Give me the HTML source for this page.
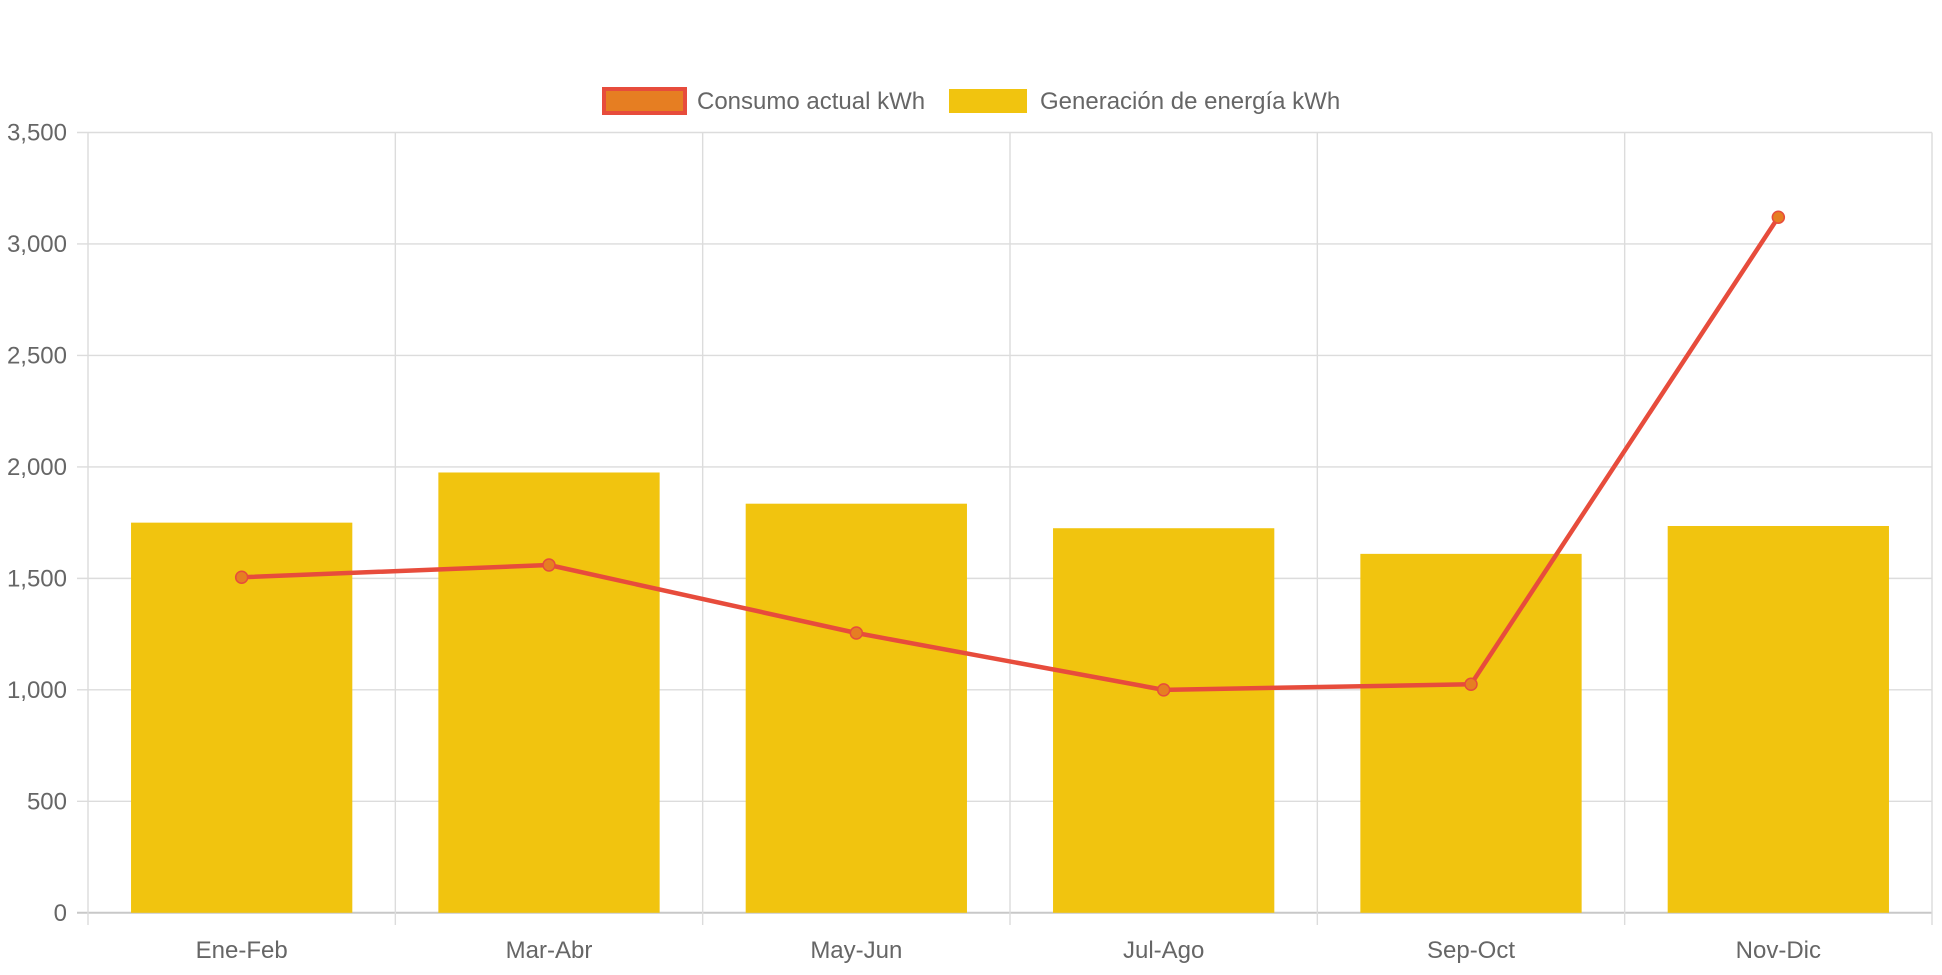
<!DOCTYPE html>
<html><head><meta charset="utf-8"><style>
html,body{margin:0;padding:0;background:#fff;}
svg text{font-family:"Liberation Sans",sans-serif;fill:#666;}
</style></head><body>
<svg id="chart" width="1942" height="970" xmlns="http://www.w3.org/2000/svg">
<g id="legend">
 <g>
  <rect x="604" y="89" width="81" height="24" fill="#e67e22" stroke="#e74c3c" stroke-width="4"/>
  <text x="697" y="109" font-size="24">Consumo actual kWh</text>
 </g>
 <g>
  <rect x="949" y="89" width="78" height="24" fill="#f1c40f"/>
  <text x="1040" y="109" font-size="24">Generación de energía kWh</text>
 </g>
</g>
<g id="grid"></g><g id="bars"></g><g id="line"></g><g id="labels"></g>
</svg>
<script>
const categories=["Ene-Feb","Mar-Abr","May-Jun","Jul-Ago","Sep-Oct","Nov-Dic"];
const generacion=[1750,1975,1835,1725,1610,1735];
const consumo=[1505,1560,1255,1000,1025,3120];
const yTicks=[0,500,1000,1500,2000,2500,3000,3500];
const yTickLabels=["0","500","1,000","1,500","2,000","2,500","3,000","3,500"];
const NS="http://www.w3.org/2000/svg";
const L=88,R=1932,T=132.5,B=912.8,YMAX=3500;
const cw=(R-L)/categories.length;
function y(v){return B-(v/YMAX)*(B-T);}
function xc(i){return L+cw*(i+0.5);}
function mk(tag,attrs,parent){const e=document.createElementNS(NS,tag);for(const k in attrs)e.setAttribute(k,attrs[k]);parent.appendChild(e);return e;}
const grid=document.getElementById('grid'),bars=document.getElementById('bars'),line=document.getElementById('line'),labels=document.getElementById('labels');
yTicks.forEach((t,i)=>{
 const g=mk('line',{x1:L-11,x2:R,y1:y(t),y2:y(t),stroke:t===0?'#c8c8c8':'#dcdcdc','stroke-width':t===0?2:1.4},grid);
 
 
 const tx=mk('text',{x:67,y:y(t)+8,'text-anchor':'end','font-size':24},labels);
 tx.textContent=yTickLabels[i];
 
 
});
for(let i=0;i<=categories.length;i++){
 const gx=L+cw*i;
 const g=mk('line',{x1:gx,x2:gx,y1:T,y2:925,stroke:'#dcdcdc','stroke-width':1.4},grid);
 
 
}
categories.forEach((c,i)=>{
 const bw=cw*0.72;
 const b=mk('rect',{x:xc(i)-bw/2,y:y(generacion[i]),width:bw,height:B-y(generacion[i]),fill:'#f1c40f'},bars);
 
 
 const tx=mk('text',{x:xc(i),y:958,'text-anchor':'middle','font-size':24},labels);
 tx.textContent=c;
 
 
});
const pl=mk('polyline',{points:consumo.map((v,i)=>xc(i)+','+y(v)).join(' '),fill:'none',stroke:'#e74c3c','stroke-width':4.5,'stroke-linejoin':'round'},line);


consumo.forEach((v,i)=>{
 const p=mk('circle',{cx:xc(i),cy:y(v),r:6,fill:'#e67e22',stroke:'#e74c3c','stroke-width':1.5},line);
 
 
});
</script>
</body></html>
